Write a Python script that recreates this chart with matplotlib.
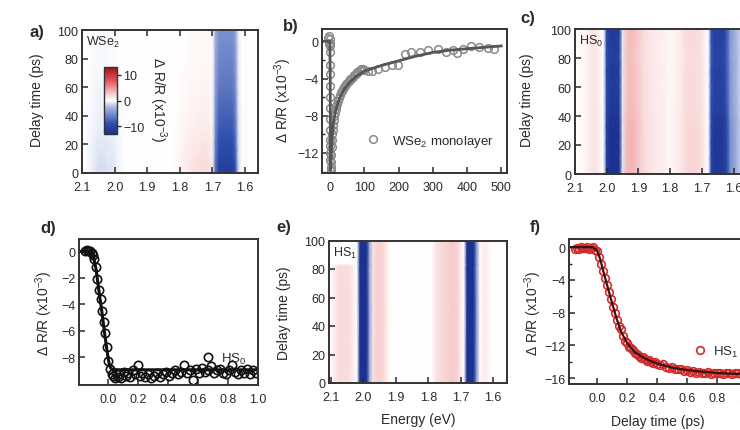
import numpy as np
import matplotlib
matplotlib.use("Agg")
import matplotlib.pyplot as plt
from matplotlib.colors import LinearSegmentedColormap
from matplotlib.ticker import MultipleLocator

plt.rcParams["font.family"] = ["Liberation Sans", "DejaVu Sans"]
plt.rcParams["mathtext.fontset"] = "custom"
plt.rcParams["mathtext.rm"] = "Liberation Sans"
plt.rcParams["mathtext.it"] = "Liberation Sans"
plt.rcParams["text.color"] = "#2a2a2a"

# ---------------- transient maps (dR/R in 1e-3), energy from 2.10 to 1.55 eV ----------------
energy = np.round(np.arange(2.10, 1.545, -0.01), 2)

# WSe2 monolayer
a_delay = [0, 5, 10, 20, 30, 40, 50, 60, 70, 80, 90, 100]
a_band = [
    0, 0, 0, 0, 0, 0, 0, 0, 0, 0,                  # 2.10-2.01
    0, 0, 0, 0, 0, 0, 0, 0, 0, 0,                  # 2.00-1.91
    0, 0, 0, 0, 0, 0, 0, 0, 0, 0,                  # 1.90-1.81
    0, 0, 0, 0, 0, 0, 0, 0, 0, 0,                  # 1.80-1.71
    0, -7, -10.5, -11, -11, -11, -11, -9, -1.5, 0.3,  # 1.70-1.61
    0.3, 0.2, 0, 0, 0, 0,                          # 1.60-1.55
]
a_weak = [
    0, 0, -0.3, -0.6, -0.9, -1.2, -1.2, -1.2, -1.0, -1.0,
    -0.8, -0.5, -0.3, 0, 0, 0, 0, 0, 0, 0,
    0, 0, 0, 0, 0, 0, 0, 0, 0.2, 0.3,
    0.5, 0.8, 1.0, 1.2, 1.4, 1.5, 1.6, 1.8, 1.8, 1.5,
    0.8, 0, 0, 0, 0, 0, 0, 0, 0, 0,
    0, 0, 0, 0, 0, 0,
]
a_band_decay = [1.0, 1.0, 0.93, 0.85, 0.78, 0.72, 0.66, 0.6, 0.56, 0.52, 0.49, 0.46]
a_weak_decay = [1.0, 1.0, 0.9, 0.75, 0.55, 0.45, 0.35, 0.3, 0.25, 0.2, 0.2, 0.15]

# HS0
c_delay = [0, 10, 20, 30, 40, 50, 60, 70, 80, 90, 100]
c_spec = [
    0.2, 0.2, 0.3, 0.5, 0.8, 1.2, 1.4, 1.2, 0.6, 0.1,
    -11, -13, -13, -13, -12, -1, 3.0, 3.5, 3.5, 3.2,
    2.8, 2.2, 1.8, 1.5, 1.3, 1.2, 1.0, 1.0, 0.8, 0.6,
    0.6, 0.6, 0.8, 1.0, 1.4, 1.8, 2.0, 2.0, 2.0, 1.8,
    1.5, 0.8, 0, -10, -12, -12, -12, -11.5, -9, -5,
    -4, -3, -2, -2, -1.5, -1.5,
]
c_scale = [1.0, 1.0, 1.0, 1.0, 0.95, 0.9, 0.88, 0.9, 0.85, 0.88, 0.9]

# HS1
e_delay = [0, 82, 84, 100]
e_main = [
    0, 0, 0, 0, 0, 0, 0, 0, 0, -13,
    -13.5, -13.5, -3, 1.5, 2.2, 2.2, 2.0, 1.2, 0.3, 0,
    0, 0, 0, 0, 0, 0, 0, 0, 0, 0,
    0, 0, 1.0, 1.5, 1.8, 2.0, 2.2, 2.5, 2.5, 2.2,
    1.0, 0, -13, -13.5, -13.5, -4, 0.2, 0.8, 0.8, 0.3,
    0, 0, 0, 0, 0, 0,
]
e_left = [
    0.3, 0.8, 1.5, 1.8, 1.8, 1.8, 1.5, 0.8, 0.2, 0,
    0, 0, 0, 0, 0, 0, 0, 0, 0, 0,
    0, 0, 0, 0, 0, 0, 0, 0, 0, 0,
    0, 0, 0, 0, 0, 0, 0, 0, 0, 0,
    0, 0, 0, 0, 0, 0, 0, 0, 0, 0,
    0, 0, 0, 0, 0, 0,
]
e_main_scale = [1, 1, 1, 1]
e_left_scale = [1, 1, 0, 0]

# ---------------- kinetics ----------------
# WSe2 monolayer, long window (ps)
b_t = [-6, -4, -3, -2, -1.5, -1, -0.8, -0.5, -0.3, -0.1, 0, 0.1, 0.2, 0.3, 0.4, 0.5, 0.6, 0.8, 1, 1.2,
       1.5, 2, 3, 4, 5, 6, 7, 8, 10, 12, 14,
       16, 18, 20, 23, 26, 29, 32, 35, 38, 41, 44, 47, 50, 54, 58, 62, 66, 70, 74, 78,
       82, 86, 90, 95, 100, 110, 121, 140, 160, 180, 198, 218, 237, 262, 285, 314, 339, 360, 372, 387,
       412, 436, 460, 480]
b_v = [0.4, -0.3, 0.6, 0.2, -0.2, -0.5, -1.2, -2.5, -3.5, -4.8, -6, -7.2, -8.4, -9.5, -10.6, -11.3, -12, -12.8, -13.5, -13.9,
       -13.8, -13, -12.2, -11.4, -10.6, -10, -9.5, -9.0, -8.5, -8.0, -7.7,
       -7.3, -7.0, -6.7, -6.4, -6.1, -5.8, -5.5, -5.3, -5.1, -4.9, -4.8, -4.6, -4.5, -4.3, -4.1, -4.0, -3.8, -3.6, -3.5, -3.3,
       -3.3, -3.1, -3.0, -3.0, -3.1, -3.2, -3.2, -3.0, -2.8, -2.5, -2.6, -1.4, -1.2, -1.1, -0.9, -0.8, -1.1, -0.9, -1.3, -0.8,
       -0.5, -0.6, -0.7, -0.8]
b_fit_t = [-24, -1, 0, 0.5, 1, 2, 4, 6, 8, 10, 15, 20, 30, 40, 50, 60, 75, 100, 150, 200, 250, 300, 350, 400, 450, 500]
b_fit_v = [0, 0, -4, -11, -13.8, -13.2, -11.5, -10.1, -9.2, -8.6, -7.6, -6.9, -5.9, -5.2, -4.7, -4.3, -3.8, -3.2,
           -2.6, -2.1, -1.6, -1.2, -0.95, -0.8, -0.65, -0.5]

# HS0, short window (ps)
d_t = [-0.153, -0.142, -0.131, -0.12, -0.109, -0.1, -0.091, -0.083, -0.075, -0.061, -0.047, -0.037, -0.027, -0.018,
       -0.009, 0.002, 0.012, 0.025,
       0.035, 0.045, 0.055, 0.065, 0.075, 0.09, 0.105, 0.12, 0.135, 0.15, 0.165, 0.18, 0.2, 0.215, 0.23,
       0.25, 0.27, 0.29, 0.31, 0.33, 0.35, 0.37, 0.39, 0.41, 0.43, 0.45, 0.47, 0.49, 0.51, 0.53, 0.55,
       0.57, 0.59, 0.61, 0.63, 0.65, 0.67, 0.69, 0.71, 0.73, 0.75, 0.77, 0.79, 0.81, 0.83, 0.85, 0.87,
       0.89, 0.91, 0.93, 0.95, 0.97, 0.99]
d_v = [0.05, 0.1, 0.0, 0.05, -0.1, -0.3, -0.6, -1.2, -2.1, -2.9, -3.6, -4.5, -5.3, -6.2,
       -7.2, -8.3, -8.9, -9.3,
       -9.4, -9.6, -9.2, -9.5, -9.3, -9.6, -9.1, -9.4, -9.2, -9.5, -9.0, -9.3, -8.6, -9.4, -9.2,
       -9.5, -9.3, -9.6, -9.4, -9.2, -9.5, -9.3, -9.1, -9.4, -9.2, -9.0, -9.3, -9.1, -8.6, -9.2, -9.0,
       -9.7, -8.9, -9.2, -8.8, -9.1, -9.0, -8.7, -9.2, -9.0, -8.9, -9.2, -9.3, -9.0, -8.6, -9.1, -9.3,
       -9.0, -9.2, -8.9, -9.3, -9.0, -9.2]
d_fit_t = [-0.193, -0.12, -0.1, -0.08, -0.06, -0.04, -0.02, 0.0, 0.01, 0.02, 0.04, 1.0]
d_fit_v = [0, 0, -0.2, -1.3, -3.0, -4.6, -6.4, -8.0, -8.6, -8.85, -8.95, -8.95]

# HS1, short window (ps)
f_t = [-0.147, -0.133, -0.12, -0.107, -0.093, -0.08, -0.067, -0.053, -0.04, -0.027, -0.013, 0.0,
       0.013, 0.027, 0.04, 0.053, 0.067, 0.08, 0.093, 0.107, 0.12, 0.133, 0.147, 0.16, 0.173, 0.187, 0.2,
       0.213, 0.227, 0.24, 0.253, 0.267, 0.28, 0.293, 0.307, 0.32, 0.333, 0.347, 0.36, 0.373, 0.387, 0.4,
       0.42, 0.44, 0.46, 0.48, 0.5, 0.52, 0.54, 0.56, 0.58, 0.6, 0.62, 0.64, 0.66, 0.68, 0.7, 0.72,
       0.74, 0.76, 0.78, 0.8, 0.82, 0.84, 0.86, 0.88, 0.9, 0.92, 0.94, 0.96, 0.98, 1.0]
f_v = [-0.2, -0.1, -0.25, 0.0, -0.15, -0.1, 0.05, -0.2, -0.1, 0.05, -0.3, -0.5,
       -1.2, -2.1, -2.9, -3.7, -4.6, -5.5, -6.3, -7.3, -8.0, -8.9, -9.6, -10.0, -10.9, -11.4, -11.7,
       -12.2, -12.3, -12.6, -12.9, -13.0, -13.3, -13.5, -13.4, -13.7, -13.9, -13.8, -14.0, -14.1, -14.0, -14.2,
       -14.4, -14.3, -14.6, -14.7, -14.6, -14.9, -14.9, -14.9, -15.1, -15.0, -15.2, -15.1, -15.3, -15.2, -15.4, -15.3,
       -15.2, -15.5, -15.3, -15.4, -15.3, -15.5, -15.4, -15.3, -15.5, -15.4, -15.3, -15.5, -15.4, -15.5]
f_fit_t = [-0.187, -0.03, 0.0, 0.02, 0.05, 0.08, 0.1, 0.13, 0.16, 0.2, 0.25, 0.3, 0.35, 0.4, 0.5, 0.6, 0.7, 0.8, 0.9, 1.033]
f_fit_v = [0, 0, -0.4, -1.4, -3.5, -5.5, -6.8, -8.7, -10.3, -11.7, -12.8, -13.4, -13.85, -14.2, -14.7, -15.0,
           -15.2, -15.35, -15.45, -15.5]

# ---------------- figure ----------------
W, H = 740, 431
INK = "#2a2a2a"
cmap = LinearSegmentedColormap.from_list("drr", [
    (0.0, "#1c3290"), (0.15, "#2d4dac"), (0.4, "#aab9e2"), (0.5, "#ffffff"),
    (0.6, "#f7caca"), (0.8, "#de5458"), (1.0, "#a5101c")])
VMAX = 13


def box(left, top, right, bottom):
    return [left / W, 1 - bottom / H, (right - left) / W, (bottom - top) / H]


def put(fig, x, y, s, **kw):
    fig.text(x / W, 1 - y / H, s, ha="center", va="center", **kw)


def style(ax, top=False):
    for sp in ax.spines.values():
        sp.set_linewidth(1.4)
        sp.set_color("#333333")
    ax.tick_params(which="both", direction="in", colors=INK, labelsize=9, top=top)
    ax.tick_params(which="major", length=4, width=1.1)
    ax.tick_params(which="minor", length=2.5, width=1.0)
    ax.tick_params(axis="x", pad=5.5)
    ax.tick_params(axis="y", pad=2.5)


def energy_map(ax, delays, parts):
    z = np.zeros((len(delays), len(energy)))
    for spec, scale in parts:
        z += np.outer(scale, spec)
    m = ax.pcolormesh(energy, delays, z, cmap=cmap, vmin=-VMAX, vmax=VMAX, shading="gouraud")
    ax.set_ylim(0, 100)
    ax.set_xticks([2.1, 2.0, 1.9, 1.8, 1.7, 1.6])
    ax.set_xticklabels(["2.1", "2.0", "1.9", "1.8", "1.7", "1.6"])
    ax.set_yticks([0, 20, 40, 60, 80, 100])
    return m


fig = plt.figure(figsize=(W / 100, H / 100), dpi=100)

# a) WSe2 map
ax_a = fig.add_axes(box(82, 31, 258, 174))
mesh = energy_map(ax_a, a_delay, [(a_band, a_band_decay), (a_weak, a_weak_decay)])
ax_a.set_xlim(2.1, 1.56)
style(ax_a, top=True)
ax_a.text(0.02, 0.97, "WSe$_2$", transform=ax_a.transAxes, fontsize=9, ha="left", va="top")

cax = fig.add_axes(box(104, 68, 117, 135))
cb = fig.colorbar(mesh, cax=cax, ticks=[-10, 0, 10])
cb.outline.set_linewidth(1.0)
cb.outline.set_edgecolor("#333333")
cax.tick_params(direction="out", length=3, width=1.0, labelsize=9, colors=INK, pad=1.5)
put(fig, 158, 100, "Δ R/R (x10$^{-3}$)", rotation=-90, fontsize=10)

# b) WSe2 kinetics
ax_b = fig.add_axes(box(322, 30, 507, 174))
ax_b.plot(b_t, b_v, "o", mfc="none", mec="#8a8a8a", ms=5.5, mew=1.1, label="WSe$_2$ monolayer")
ax_b.plot(b_fit_t, b_fit_v, "-", color="#555555", lw=2.0)
ax_b.set_xlim(-24, 517)
ax_b.set_ylim(-14.15, 1.32)
ax_b.set_xticks([0, 100, 200, 300, 400, 500])
ax_b.set_yticks([-12, -8, -4, 0])
ax_b.yaxis.set_minor_locator(MultipleLocator(2))
style(ax_b)
ax_b.legend(loc="center left", bbox_to_anchor=(366 / W, 1 - 142 / H), bbox_transform=fig.transFigure,
            frameon=False, fontsize=9.5, handlelength=1.0, handletextpad=1.0, borderpad=0, borderaxespad=0,
            numpoints=1)

# c) HS0 map
ax_c = fig.add_axes(box(575, 30, 751, 175))
energy_map(ax_c, c_delay, [(c_spec, c_scale)])
ax_c.set_xlim(2.1, 1.545)
style(ax_c)
ax_c.text(0.02, 0.97, "HS$_0$", transform=ax_c.transAxes, fontsize=9, ha="left", va="top")

# d) HS0 kinetics
ax_d = fig.add_axes(box(79, 240, 258, 386))
ax_d.plot(d_t, d_v, "o", mfc="none", mec="#111111", ms=6, mew=1.2, label="HS$_0$")
ax_d.plot(d_fit_t, d_fit_v, "-", color="#111111", lw=2.2)
ax_d.set_xlim(-0.193, 1.0)
ax_d.set_ylim(-10.1, 0.94)
ax_d.set_xticks([0.0, 0.2, 0.4, 0.6, 0.8, 1.0])
ax_d.set_xticklabels(["0.0", "0.2", "0.4", "0.6", "0.8", "1.0"])
ax_d.set_yticks([-8, -6, -4, -2, 0])
style(ax_d)
ax_d.legend(loc="center left", bbox_to_anchor=(201 / W, 1 - 359 / H), bbox_transform=fig.transFigure,
            frameon=False, fontsize=9.5, handlelength=1.0, handletextpad=0.5, borderpad=0, borderaxespad=0,
            numpoints=1)

# e) HS1 map
ax_e = fig.add_axes(box(329, 241.5, 507, 384))
energy_map(ax_e, e_delay, [(e_main, e_main_scale), (e_left, e_left_scale)])
ax_e.set_xlim(2.106, 1.557)
style(ax_e)
ax_e.text(0.02, 0.97, "HS$_1$", transform=ax_e.transAxes, fontsize=9, ha="left", va="top")

# f) HS1 kinetics
ax_f = fig.add_axes(box(569, 240, 752, 385))
ax_f.plot(f_t, f_v, "o", mfc="none", mec="#d42a2a", ms=5.5, mew=1.2, label="HS$_1$")
ax_f.plot(f_fit_t, f_fit_v, "-", color="#3b1212", lw=1.6)
ax_f.set_xlim(-0.187, 1.033)
ax_f.set_ylim(-16.7, 1.0)
ax_f.set_xticks([0.0, 0.2, 0.4, 0.6, 0.8, 1.0])
ax_f.set_xticklabels(["0.0", "0.2", "0.4", "0.6", "0.8", "1.0"])
ax_f.set_yticks([-16, -12, -8, -4, 0])
ax_f.yaxis.set_minor_locator(MultipleLocator(2))
style(ax_f)
ax_f.legend(loc="center left", bbox_to_anchor=(693 / W, 1 - 352 / H), bbox_transform=fig.transFigure,
            frameon=False, fontsize=9.5, handlelength=1.0, handletextpad=0.5, borderpad=0, borderaxespad=0,
            numpoints=1)

# axis labels
drr = "Δ R/R (x10$^{-3}$)"
put(fig, 37, 100, "Delay time (ps)", rotation=90, fontsize=10)
put(fig, 283, 100, drr, rotation=90, fontsize=10)
put(fig, 527, 100, "Delay time (ps)", rotation=90, fontsize=10)
put(fig, 44, 313, drr, rotation=90, fontsize=10)
put(fig, 284, 313, "Delay time (ps)", rotation=90, fontsize=10)
put(fig, 533, 313, drr, rotation=90, fontsize=10)
put(fig, 418, 420, "Energy (eV)", fontsize=10)
put(fig, 658, 422, "Delay time (ps)", fontsize=10)

# panel letters
for x, y, s in [(37, 32, "a)"), (291, 27, "b)"), (528, 19, "c)"),
                (48, 229, "d)"), (284, 228, "e)"), (535, 228, "f)")]:
    put(fig, x, y, s, fontsize=12, fontweight="bold")

fig.savefig("out.png", dpi=100, facecolor="white")
